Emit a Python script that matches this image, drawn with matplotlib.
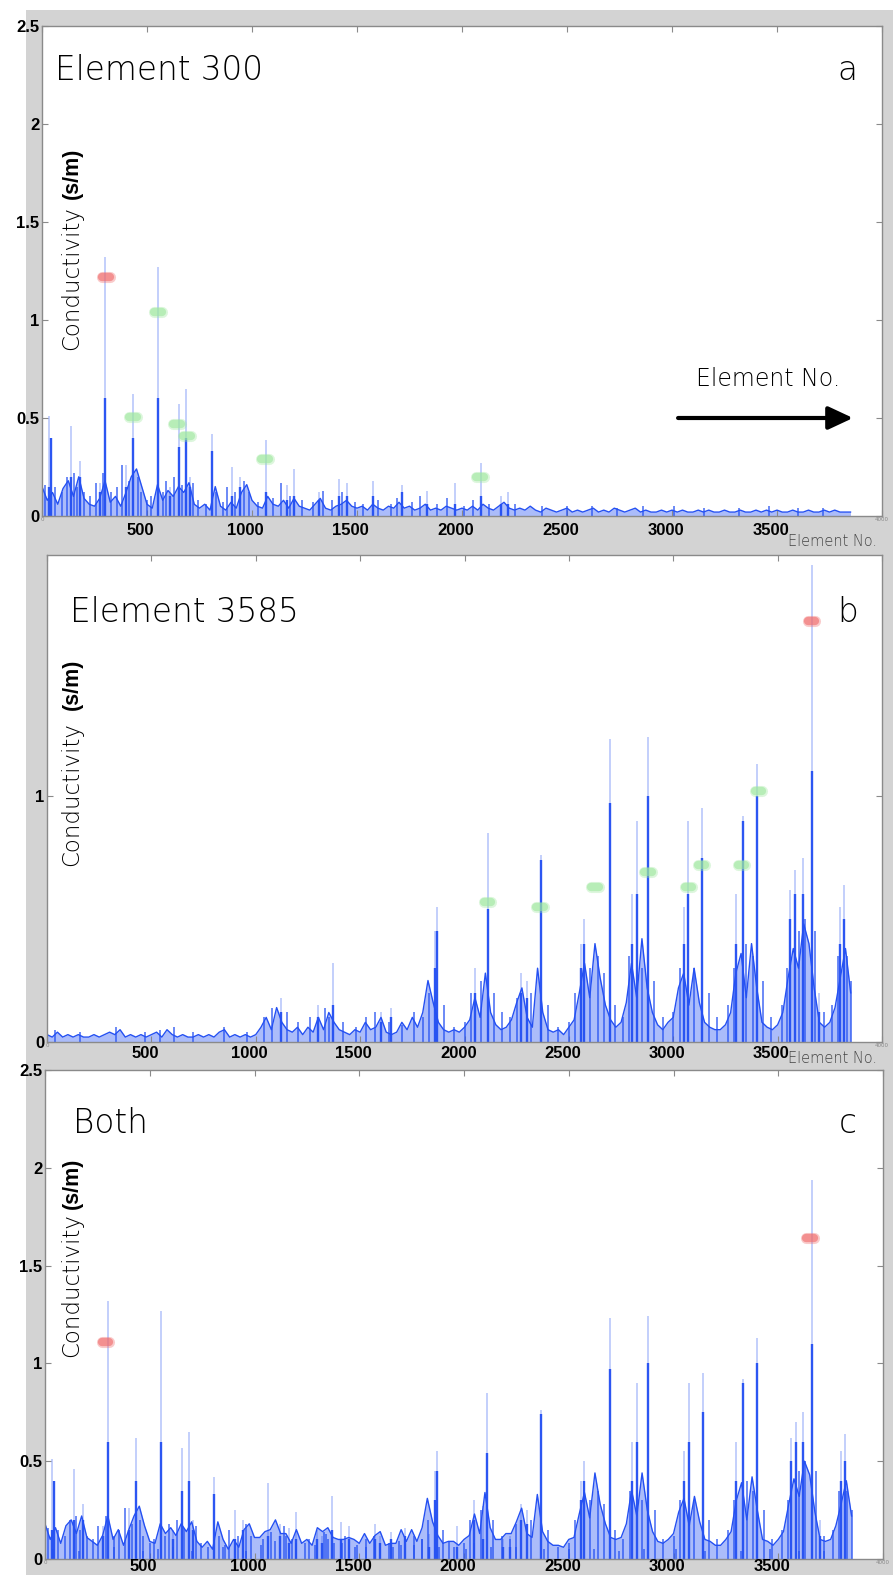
import numpy as np
import matplotlib
matplotlib.use("Agg")
import matplotlib.pyplot as plt
from matplotlib.patches import Rectangle
from matplotlib.transforms import blended_transform_factory

W, H = 893, 1575

# ---- data -------------------------------------------------------------
# background noise level, one value every 25 elements (0 ... 3850)
bg_step = 25
bg_a = [0.15, 0.08, 0.12, 0.06, 0.14, 0.18, 0.10, 0.20, 0.09, 0.06,
        0.05, 0.09, 0.18, 0.07, 0.10, 0.05, 0.12, 0.20, 0.24, 0.15,
        0.06, 0.04, 0.16, 0.08, 0.13, 0.10, 0.15, 0.12, 0.17, 0.06,
        0.04, 0.06, 0.03, 0.15, 0.05, 0.03, 0.07, 0.04, 0.12, 0.16,
        0.08, 0.05, 0.04, 0.10, 0.06, 0.05, 0.08, 0.04, 0.09, 0.05,
        0.04, 0.03, 0.06, 0.09, 0.04, 0.03, 0.05, 0.06, 0.08, 0.05,
        0.04, 0.05, 0.03, 0.06, 0.04, 0.03, 0.05, 0.04, 0.07, 0.04,
        0.05, 0.03, 0.04, 0.06, 0.03, 0.04, 0.03, 0.05, 0.04, 0.03,
        0.04, 0.03, 0.05, 0.03, 0.06, 0.04, 0.03, 0.05, 0.07, 0.04,
        0.03, 0.04, 0.03, 0.05, 0.03, 0.02, 0.04, 0.03, 0.02, 0.03,
        0.04, 0.02, 0.03, 0.02, 0.03, 0.04, 0.02, 0.03, 0.02, 0.04,
        0.03, 0.02, 0.03, 0.04, 0.02, 0.03, 0.02, 0.02, 0.03, 0.02,
        0.03, 0.02, 0.03, 0.02, 0.02, 0.03, 0.02, 0.03, 0.02, 0.02,
        0.03, 0.02, 0.02, 0.03, 0.02, 0.02, 0.03, 0.02, 0.03, 0.02,
        0.03, 0.02, 0.02, 0.03, 0.02, 0.02, 0.03, 0.02, 0.02, 0.03,
        0.02, 0.03, 0.02, 0.02, 0.02]
bg_b = [0.03, 0.02, 0.04, 0.02, 0.03, 0.02, 0.03, 0.02, 0.02, 0.03,
        0.02, 0.03, 0.04, 0.03, 0.05, 0.02, 0.03, 0.02, 0.03, 0.02,
        0.03, 0.04, 0.02, 0.05, 0.03, 0.02, 0.03, 0.02, 0.02, 0.03,
        0.02, 0.03, 0.02, 0.04, 0.05, 0.02, 0.03, 0.02, 0.03, 0.02,
        0.03, 0.06, 0.10, 0.05, 0.14, 0.08, 0.05, 0.04, 0.06, 0.03,
        0.06, 0.04, 0.10, 0.05, 0.12, 0.08, 0.05, 0.04, 0.03, 0.05,
        0.04, 0.08, 0.05, 0.06, 0.10, 0.04, 0.03, 0.04, 0.08, 0.05,
        0.10, 0.06, 0.12, 0.25, 0.16, 0.08, 0.05, 0.04, 0.05, 0.04,
        0.06, 0.09, 0.18, 0.10, 0.28, 0.12, 0.07, 0.05, 0.06, 0.09,
        0.16, 0.22, 0.10, 0.06, 0.30, 0.12, 0.05, 0.04, 0.05, 0.03,
        0.06, 0.09, 0.20, 0.32, 0.18, 0.40, 0.26, 0.15, 0.09, 0.06,
        0.08, 0.16, 0.32, 0.18, 0.42, 0.22, 0.12, 0.07, 0.05, 0.08,
        0.10, 0.22, 0.28, 0.15, 0.30, 0.16, 0.08, 0.06, 0.05, 0.05,
        0.07, 0.12, 0.28, 0.36, 0.18, 0.40, 0.22, 0.08, 0.06, 0.05,
        0.07, 0.12, 0.26, 0.38, 0.30, 0.48, 0.40, 0.22, 0.08, 0.06,
        0.08, 0.14, 0.26, 0.38, 0.20]

# small spikes sticking out of the noise band
minor_a_x = [15, 60, 95, 120, 150, 165, 200, 230, 255, 290, 330, 355, 380,
             415, 455, 470, 500, 520, 575, 590, 630, 665, 720, 745, 780, 830,
             860, 880, 920, 960, 985, 1030, 1100, 1140, 1180, 1240, 1290,
             1340, 1380, 1430, 1490, 1530, 1600, 1660, 1690, 1760, 1800, 1880,
             1930, 2010, 2050, 2130, 2250, 2380, 2500, 2620, 2740, 2860, 3010,
             3150, 3320, 3460, 3600, 3720]
minor_a_h = [0.16, 0.15, 0.12, 0.20, 0.22, 0.15, 0.12, 0.10, 0.17, 0.22,
             0.12, 0.15, 0.26, 0.18, 0.20, 0.12, 0.08, 0.10, 0.12, 0.18,
             0.20, 0.16, 0.17, 0.08, 0.06, 0.12, 0.07, 0.15, 0.12, 0.18,
             0.12, 0.07, 0.09, 0.17, 0.10, 0.08, 0.07, 0.13, 0.08, 0.12,
             0.07, 0.06, 0.08, 0.06, 0.09, 0.07, 0.10, 0.06, 0.09, 0.05,
             0.08, 0.06, 0.06, 0.05, 0.05, 0.05, 0.04, 0.05, 0.05, 0.04,
             0.04, 0.05, 0.04, 0.04]
minor_b_x = [40, 160, 330, 470, 540, 610, 700, 850, 960, 1040, 1080, 1150,
             1200, 1260, 1330, 1350, 1420, 1480, 1530, 1570, 1640, 1700, 1760,
             1800, 1830, 1900, 1950, 2000, 2030, 2080, 2140, 2180, 2220, 2250,
             2320, 2400, 2450, 2500, 2530, 2600, 2640, 2670, 2720, 2760, 2790,
             2850, 2910, 2950, 3000, 3030, 3100, 3170, 3210, 3260, 3290, 3350,
             3380, 3430, 3470, 3520, 3545, 3600, 3630, 3680, 3720, 3760, 3790,
             3830, 3850]
minor_b_h = [0.05, 0.04, 0.06, 0.04, 0.05, 0.06, 0.04, 0.06, 0.04, 0.10,
             0.14, 0.12, 0.08, 0.10, 0.14, 0.10, 0.08, 0.06, 0.10, 0.12,
             0.08, 0.07, 0.12, 0.10, 0.20, 0.15, 0.06, 0.08, 0.20, 0.25,
             0.20, 0.12, 0.10, 0.18, 0.20, 0.15, 0.06, 0.08, 0.20, 0.30,
             0.35, 0.28, 0.15, 0.10, 0.35, 0.30, 0.25, 0.10, 0.12, 0.30,
             0.30, 0.20, 0.10, 0.15, 0.30, 0.40, 0.35, 0.25, 0.10, 0.15,
             0.30, 0.45, 0.50, 0.45, 0.12, 0.15, 0.35, 0.35, 0.25]

# isolated spikes: element, peak value (single trace), dense core value
peak_a_x = [33, 42, 138, 181, 276, 300, 400, 435, 553, 610, 652, 686, 705,
            808, 905, 943, 1066, 1166, 1200, 1320, 1415, 1453, 1577, 1716,
            1832, 1967, 2090, 2186, 2220]
peak_a_top = [0.51, 0.40, 0.46, 0.28, 0.17, 1.32, 0.26, 0.62, 1.27, 0.15,
              0.57, 0.65, 0.20, 0.42, 0.25, 0.20, 0.39, 0.16, 0.24, 0.12,
              0.19, 0.17, 0.18, 0.16, 0.13, 0.17, 0.27, 0.10, 0.12]
peak_a_core = [0.15, 0.40, 0.20, 0.20, 0.12, 0.60, 0.15, 0.40, 0.60, 0.10,
               0.35, 0.40, 0.15, 0.33, 0.10, 0.15, 0.12, 0.08, 0.10, 0.08,
               0.10, 0.10, 0.10, 0.12, 0.06, 0.06, 0.10, 0.06, 0.06]

peak_b_x = [1120, 1300, 1370, 1600, 1650, 1860, 1870, 2050, 2111, 2270,
            2300, 2366, 2560, 2572, 2696, 2800, 2826, 2880, 3050, 3072,
            3140, 3300, 3332, 3400, 3560, 3585, 3620, 3663, 3700, 3800, 3817]
peak_b_top = [0.18, 0.15, 0.32, 0.12, 0.14, 0.45, 0.55, 0.30, 0.85, 0.28,
              0.25, 0.76, 0.40, 0.50, 1.23, 0.60, 0.90, 1.24, 0.55, 0.90,
              0.95, 0.60, 0.92, 1.13, 0.62, 0.70, 0.75, 1.94, 0.20, 0.55, 0.64]
peak_b_core = [0.12, 0.10, 0.15, 0.08, 0.10, 0.30, 0.45, 0.20, 0.54, 0.20,
               0.18, 0.74, 0.30, 0.40, 0.97, 0.40, 0.60, 1.00, 0.40, 0.60,
               0.75, 0.40, 0.90, 1.00, 0.50, 0.60, 0.60, 1.10, 0.12, 0.40, 0.50]

# marked elements
green_a_x = [433, 552, 642, 690, 1062, 2086]
green_a_y = [0.505, 1.04, 0.47, 0.41, 0.29, 0.20]
red_a = (304, 1.22)

green_b_x = [2111, 2361, 2625, 2880, 3072, 3135, 3327, 3409]
green_b_y = [0.57, 0.55, 0.63, 0.69, 0.63, 0.72, 0.72, 1.02]
red_b = (3663, 1.71)

red_c_x = [289, 3651]
red_c_y = [1.11, 1.64]

x_ticks = [0, 500, 1000, 1500, 2000, 2500, 3000, 3500, 4000]
bold_x_labels = ['500', '1000', '1500', '2000', '2500', '3000', '3500']

# ---- style ------------------------------------------------------------
BLUE = '#2450f2'
LIGHT_FONT = dict(family='DejaVu Sans', fontweight=200)
TICK_FONT = dict(family='Liberation Sans', fontweight='bold', fontsize=12)

fig = plt.figure(figsize=(W / 100, H / 100), dpi=100, facecolor='white')
fig.patches.append(Rectangle((26 / W, 0), 1 - 26 / W, 1 - 10 / H,
                             transform=fig.transFigure, facecolor='#d3d3d3',
                             edgecolor='none', zorder=-10))


def make_axes(left, top, right, bottom):
    return fig.add_axes([left / W, 1 - bottom / H, (right - left) / W,
                         (bottom - top) / H])


def fig_xy(x, y):
    return x / W, 1 - y / H


def draw_signal(ax, bg, mx, mh, px, top, core):
    xb = np.arange(len(bg)) * bg_step
    ax.fill_between(xb, 0, bg, color=BLUE, alpha=0.38, lw=0)
    ax.plot(xb, bg, color=BLUE, lw=1.0, alpha=1.0)
    ax.vlines(mx, 0, mh, color=BLUE, lw=1.1, alpha=0.85)
    ax.vlines(px, 0, top, color=BLUE, lw=1.1, alpha=0.35)
    ax.vlines(px, 0, core, color=BLUE, lw=1.7, alpha=0.95)


def blob(ax, x, y, color):
    for lw, a in [(8, 0.35), (6, 0.6)]:
        ax.plot([x - 18, x + 18], [y, y], color=color, lw=lw, alpha=a,
                solid_capstyle='round', zorder=5)


def style_axes(ax, ymax, yticks, ylabels, label_dy):
    ax.set_xlim(0, 4000)
    ax.set_ylim(0, ymax)
    for s in ax.spines.values():
        s.set_color('#8a8a8a')
        s.set_linewidth(1.0)
    ax.tick_params(direction='in', length=4, color='#8a8a8a', top=True,
                   right=True, pad=1)
    ax.set_xticks(x_ticks)
    # only the end ticks keep their small default labels
    tiny = ['0'] + [''] * 7 + ['4000']
    ax.set_xticklabels(tiny, fontsize=4, color='#888888')
    ax.set_yticks(yticks)
    ax.set_yticklabels(ylabels, **TICK_FONT)
    ax.tick_params(axis='y', pad=2)
    trans = blended_transform_factory(ax.transData, ax.transAxes)
    for t, lab in zip(x_ticks[1:-1], bold_x_labels):
        ax.text(t - 30, label_dy, lab, transform=trans, ha='center',
                va='center', **TICK_FONT)


def ylabel(x, y_cond, y_unit):
    fig.text(*fig_xy(x, y_cond), 'Conductivity', rotation=90, ha='center',
             va='bottom', fontsize=16.5, **LIGHT_FONT)
    fig.text(*fig_xy(x, y_unit), '(s/m)', rotation=90, ha='center',
             va='bottom', fontsize=15.5, family='Liberation Sans',
             fontweight='bold')


# ---- panel a ----------------------------------------------------------
ax_a = make_axes(42, 26, 882, 516)
draw_signal(ax_a, bg_a, minor_a_x, minor_a_h, peak_a_x, peak_a_top,
            peak_a_core)
for gx, gy in zip(green_a_x, green_a_y):
    blob(ax_a, gx, gy, '#9ee89e')
blob(ax_a, *red_a, '#f06a6a')
style_axes(ax_a, 2.5, [0, 0.5, 1, 1.5, 2, 2.5],
           ['0', '0.5', '1', '1.5', '2', '2.5'], -0.029)
ax_a.annotate('', xy=(3862, 0.5), xytext=(3029, 0.5),
              arrowprops=dict(arrowstyle='-|>,head_length=0.75,head_width=0.35',
                              mutation_scale=20, lw=3, color='black',
                              shrinkA=0, shrinkB=0))
fig.text(*fig_xy(768, 386), 'Element No.', ha='center', va='baseline',
         fontsize=17, **LIGHT_FONT)
fig.text(*fig_xy(55, 80), 'Element 300', ha='left', va='baseline',
         fontsize=23.5, **LIGHT_FONT)
fig.text(*fig_xy(857, 80), 'a', ha='right', va='baseline', fontsize=23.5,
         **LIGHT_FONT)
fig.text(*fig_xy(788, 546), 'Element No.', ha='left', va='baseline',
         fontsize=10.5, color='#444444', **LIGHT_FONT)
ylabel(72, 350, 199)

# ---- panel b ----------------------------------------------------------
ax_b = make_axes(47, 555, 882, 1042)
draw_signal(ax_b, bg_b, minor_b_x, minor_b_h, peak_b_x, peak_b_top,
            peak_b_core)
for gx, gy in zip(green_b_x, green_b_y):
    blob(ax_b, gx, gy, '#9ee89e')
blob(ax_b, *red_b, '#f06a6a')
style_axes(ax_b, 1.98, [0, 1], ['0', '1'], -0.024)
fig.text(*fig_xy(70, 622), 'Element 3585', ha='left', va='baseline',
         fontsize=23.5, **LIGHT_FONT)
fig.text(*fig_xy(858, 622), 'b', ha='right', va='baseline', fontsize=23.5,
         **LIGHT_FONT)
fig.text(*fig_xy(788, 1063), 'Element No.', ha='left', va='baseline',
         fontsize=10.5, color='#444444', **LIGHT_FONT)
ylabel(72, 866, 710)

# ---- panel c: both perturbations -------------------------------------
ax_c = make_axes(45, 1070, 883, 1559)
draw_signal(ax_c, np.add(bg_a, bg_b), minor_a_x + minor_b_x,
            minor_a_h + minor_b_h, peak_a_x + peak_b_x,
            peak_a_top + peak_b_top, peak_a_core + peak_b_core)
for rx, ry in zip(red_c_x, red_c_y):
    blob(ax_c, rx, ry, '#f06a6a')
style_axes(ax_c, 2.5, [0, 0.5, 1, 1.5, 2, 2.5],
           ['0', '0.5', '1', '1.5', '2', '2.5'], -0.016)
fig.text(*fig_xy(73, 1133), 'Both', ha='left', va='baseline', fontsize=23.5,
         **LIGHT_FONT)
fig.text(*fig_xy(857, 1133), 'c', ha='right', va='baseline', fontsize=23.5,
         **LIGHT_FONT)
ylabel(72, 1357, 1209)

fig.savefig('out.png', dpi=100)
